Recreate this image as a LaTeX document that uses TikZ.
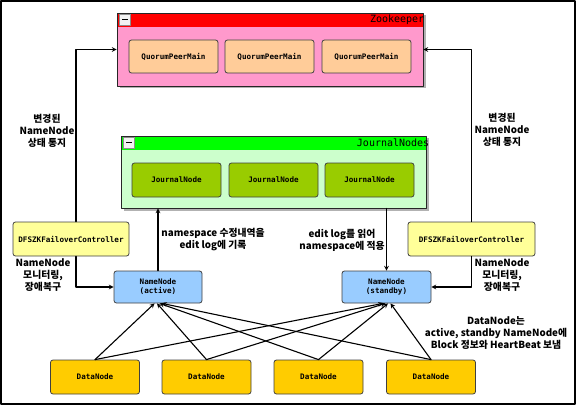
\documentclass[tikz,border=0pt]{standalone}
\usepackage{fontspec}
\newfontfamily\kr{Noto Sans CJK KR}
\newfontfamily\mono{DejaVu Sans Mono}
\usetikzlibrary{shadows}
\definecolor{zkhead}{HTML}{FF0000}
\definecolor{zkbody}{HTML}{FF99CC}
\definecolor{qpm}{HTML}{FFCC99}
\definecolor{jnhead}{HTML}{00FF00}
\definecolor{jnbody}{HTML}{CCFFCC}
\definecolor{jnode}{HTML}{99CC00}
\definecolor{zkfc}{HTML}{FFFF99}
\definecolor{nnode}{HTML}{99CCFF}
\definecolor{dnode}{HTML}{FFCC00}
\begin{document}
\begin{tikzpicture}[x=1pt,y=-1pt,>=stealth, line join=round, line cap=round,
	box/.style={draw=black!75, line width=0.8pt, rounded corners=2.5pt, minimum width=89pt, minimum height=33pt, inner sep=1pt, align=center, font=\mono\bfseries\fontsize{7.6}{9}\selectfont},
	group/.style={draw=black!85, line width=0.8pt, minimum width=306pt, minimum height=73pt,
		general shadow={shadow xshift=2.5pt, shadow yshift=-2.5pt, fill=black!30},
		path picture={\fill[#1] (path picture bounding box.north west) rectangle ([yshift=-14pt]path picture bounding box.north east);}},
	minbtn/.style={draw=black!45, fill=black!5, minimum size=11pt, inner sep=0pt},
	title/.style={anchor=east, inner sep=0pt, font=\mono\fontsize{10}{12}\selectfont},
	lbl/.style={align=center, inner sep=0pt, font=\kr\bfseries\fontsize{9.8}{12}\selectfont},
	link/.style={->, line width=1.1pt}]
	\useasboundingbox (0,0) rectangle (577,406);
	\draw[line width=1.2pt] (1,1) rectangle (575,404);
	% Zookeeper
	\node[group=zkhead, fill=zkbody] (zk) at (270,49.5) {};
	\node[minbtn] (zkbtn) at ([xshift=8.5pt,yshift=-7pt]zk.north west) {\rule{6pt}{1.6pt}};
	\node[title] (zktitle) at ([xshift=1pt,yshift=-7pt]zk.north east) {Zookeeper};
	\foreach \x [count=\i] in {173.5,269.5,366.5}
		\node[box, fill=qpm] (q\i) at (\x,56.5) {QuorumPeerMain};
	% JournalNodes
	\node[group=jnhead, fill=jnbody, minimum width=305pt, minimum height=72pt] (jn) at (273.5,172) {};
	\node[minbtn] (jnbtn) at ([xshift=8.5pt,yshift=-7pt]jn.north west) {\rule{6pt}{1.6pt}};
	\node[title] (jntitle) at ([xshift=3pt,yshift=-7pt]jn.north east) {JournalNodes};
	\foreach \x [count=\i] in {176.5,273.5,369.5}
		\node[box, fill=jnode, minimum height=34pt] (j\i) at (\x,180) {JournalNode};
	% ZKFC
	\node[box, fill=zkfc, minimum width=116pt, minimum height=34pt] (zfl) at (71,239) {DFSZKFailoverController};
	\node[box, fill=zkfc, minimum width=127pt, minimum height=34pt] (zfr) at (471.5,239) {DFSZKFailoverController};
	% NameNodes
	\node[box, fill=nnode, minimum width=88pt, minimum height=32pt] (na) at (158,287) {NameNode\\(active)};
	\node[box, fill=nnode, minimum height=32pt] (ns) at (386.5,287) {NameNode\\(standby)};
	% DataNodes
	\foreach \x [count=\i] in {95,206.5,318.5,431}
		\node[box, fill=dnode, minimum height=34pt] (d\i) at (\x,377) {DataNode};
	% connectors
	\draw[link] ([xshift=5pt]zfl.north) |- (zk);
	\draw[link] (zfr.north) |- (zk);
	\draw[link] ([xshift=5pt]zfl.south) |- (na);
	\draw[link] (zfr.south) |- (ns);
	\draw[link] (na) -- (na |- jn.south);
	\draw[link] (ns |- jn.south) -- (ns);
	\foreach \i in {1,...,4}{
		\draw[link] (d\i.north) -- ([xshift=\i*2.5pt-6pt]na.south);
		\draw[link] (d\i.north) -- ([xshift=\i*2.5pt-6pt]ns.south);
	}
	% labels
	\node[lbl] (tl) at (47,131) {변경된\\NameNode\\상태 통지};
	\node[lbl] (tr) at (502,130) {변경된\\NameNode\\상태 통지};
	\node[lbl] (ml) at (43,275) {NameNode\\모니터링,\\장애복구};
	\node[lbl] (mr) at (502,275) {NameNode\\모니터링,\\장애복구};
	\node[lbl] (wa) at (213,240) {namespace 수정내역을\\edit log에 기록};
	\node[lbl] (ws) at (342,240) {edit log를 읽어\\namespace에 적용};
	\node[lbl] (dn) at (496,333) {DataNode는\\active, standby NameNode에\\Block 정보와 HeartBeat 보냄};
\end{tikzpicture}
\end{document}
